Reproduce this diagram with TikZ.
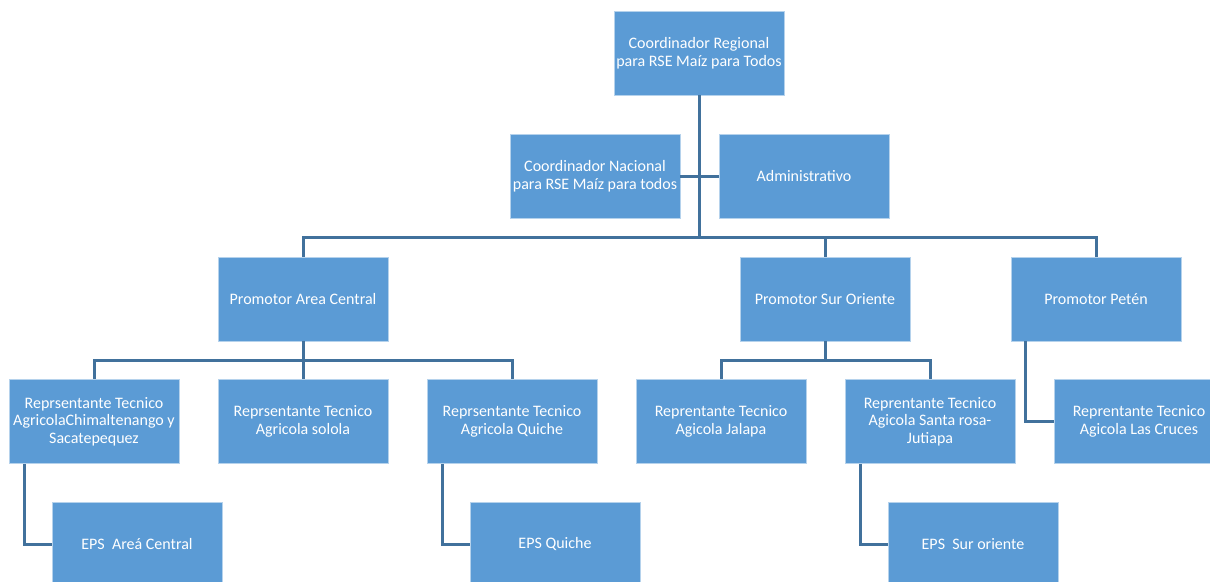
\documentclass[tikz,border=0pt]{standalone}
\usepackage{fontspec}
\setmainfont{Carlito}
\definecolor{boxblue}{HTML}{5B9BD5}
\definecolor{lineblue}{HTML}{41719C}

\begin{document}
\begin{tikzpicture}[x=1pt,y=-1pt,
		box/.style={rectangle, fill=boxblue, draw=white!55!boxblue, line width=0.8pt, text=white,
			minimum width=170pt, minimum height=84pt, inner sep=2pt, align=center,
			font=\fontsize{16}{17.5}\selectfont},
		link/.style={draw=lineblue, line width=3pt}]
		\useasboundingbox (0,0) rectangle (1210,581);

		\draw (699,53) node [box] (reg) {Coordinador Regional\\para RSE Maíz para Todos};
		\draw (595,176) node [box] (nac) {Coordinador Nacional\\para RSE Maíz para todos};
		\draw (804,176) node [box] (adm) {Administrativo};
		\draw (303,299) node [box] (pac) {Promotor Area Central};
		\draw (825,299) node [box] (pso) {Promotor Sur Oriente};
		\draw (1096,299) node [box] (ppe) {Promotor Petén};
		\draw (94,421.5) node [box] (chi) {Reprsentante Tecnico\\AgricolaChimaltenango y\\Sacatepequez};
		\draw (303,421.5) node [box] (sol) {Reprsentante Tecnico\\Agricola solola};
		\draw (512,421.5) node [box] (qui) {Reprsentante Tecnico\\Agricola Quiche};
		\draw (721,421.5) node [box] (jal) {Reprentante Tecnico\\Agicola Jalapa};
		\draw (930,421.5) node [box] (jut) {Reprentante Tecnico\\Agicola Santa rosa-\\Jutiapa};
		\draw (1139,421.5) node [box] (cru) {Reprentante Tecnico\\Agicola Las Cruces};
		\draw (137,544) node [box] (epsac) {EPS\ \ Areá Central};
		\draw (555,544) node [box] (epsqu) {EPS Quiche};
		\draw (973,544) node [box] (epsso) {EPS\ \ Sur oriente};

		\coordinate (bus) at (699,237);
		\coordinate (acbus) at (303,360);
		\coordinate (sobus) at (825,360);

		\draw [link] (reg) -- (bus);
		\draw [link] (nac) -- (adm);
		\draw [link] (bus) -| (pac);
		\draw [link] (bus) -| (pso);
		\draw [link] (bus) -| (ppe);
		\draw [link] (pac) -- (acbus);
		\draw [link] (acbus) -| (chi);
		\draw [link] (acbus) -- (sol);
		\draw [link] (acbus) -| (qui);
		\draw [link] (pso) -- (sobus);
		\draw [link] (sobus) -| (jal);
		\draw [link] (sobus) -| (jut);
		\draw [link] ([xshift=15pt]ppe.south west) |- (cru);
		\draw [link] ([xshift=16pt]chi.south west) |- (epsac);
		\draw [link] ([xshift=16pt]qui.south west) |- (epsqu);
		\draw [link] ([xshift=16pt]jut.south west) |- (epsso);
	\end{tikzpicture}
\end{document}
